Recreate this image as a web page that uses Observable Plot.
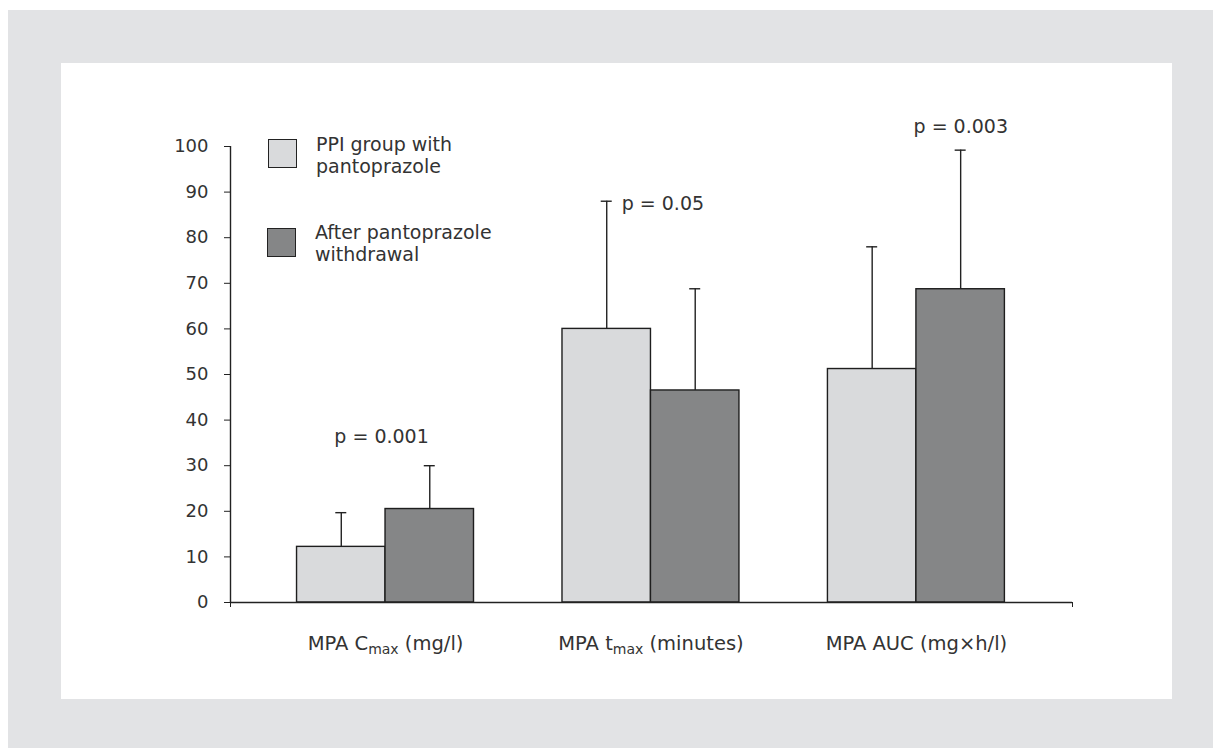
<!DOCTYPE html>
<html>
<head>
<meta charset="utf-8">
<script src="https://cdn.jsdelivr.net/npm/d3@7"></script>
<script src="https://cdn.jsdelivr.net/npm/@observablehq/plot@0.6"></script>
<style>
html, body { margin: 0; padding: 0; background: #fff; width: 1213px; height: 748px; overflow: hidden; }
body { position: relative; font-family: "DejaVu Sans", sans-serif; color: #333; }
#outer { position: absolute; left: 8px; top: 10px; width: 1205px; height: 738px; background: #e2e3e5; }
#inner { position: absolute; left: 61px; top: 63px; width: 1111px; height: 636px; background: #fff; }
#chart { position: absolute; left: 0; top: 0; }
.sw { position: absolute; box-sizing: border-box; width: 29px; height: 29px; border: 1.4px solid #222; }
.lt { position: absolute; font-size: 19px; line-height: 22px; color: #333; white-space: nowrap; }
</style>
</head>
<body>
<div id="outer"></div>
<div id="inner"></div>
<div id="chart"></div>
<div id="legend"></div>
<script>
// ---- data ----
const catMain = ["MPA C", "MPA t", "MPA AUC (mg\u00d7h/l)"];
const catSub  = ["max", "max", ""];
const catTail = [" (mg/l)", " (minutes)", ""];
const groups = ["PPI group with pantoprazole", "After pantoprazole withdrawal"];
const groupLines = [["PPI group with", "pantoprazole"], ["After pantoprazole", "withdrawal"]];
const groupColors = ["#d9dadc", "#858687"];
const ppiMean    = [12.2, 60.0, 51.2];
const ppiUpper   = [19.7, 88.0, 78.0];
const afterMean  = [20.5, 46.5, 68.7];
const afterUpper = [30.0, 68.8, 99.2];
const pLabels = ["p = 0.001", "p = 0.05", "p = 0.003"];
const pLabelY = [35, 86, 103];
const pLabelX = [-0.015, 0.045, 0.167];
const yTicks = [0, 10, 20, 30, 40, 50, 60, 70, 80, 90, 100];

// ---- build table ----
const fullLabels = catMain.map((m, i) => m + catSub[i] + catTail[i]);
const rows = [];
fullLabels.forEach((c, i) => {
  rows.push({cat: c, group: groups[0], x1: i - 1/3, x2: i, mean: ppiMean[i], upper: ppiUpper[i]});
  rows.push({cat: c, group: groups[1], x1: i, x2: i + 1/3, mean: afterMean[i], upper: afterUpper[i]});
});
const center = d => (d.x1 + d.x2) / 2;
const xDomain = [-0.584, 2.588];
const ink = "#222";

const chart = Plot.plot({
  width: 1213,
  height: 748,
  marginLeft: 230,
  marginRight: 141,
  marginTop: 146,
  marginBottom: 146,
  style: {fontFamily: "DejaVu Sans, sans-serif", fontSize: "18px", color: "#333", background: "none", overflow: "visible"},
  x: {domain: xDomain, label: null},
  y: {domain: [0, 100], label: null},
  color: {domain: groups, range: groupColors},
  marks: [
    Plot.axisY({ticks: yTicks, tickSize: 6, tickPadding: 16, label: null, stroke: ink, fontSize: 18}),
    Plot.axisX({ticks: xDomain, tickSize: 5, tickFormat: () => "", label: null, stroke: ink}),
    Plot.axisX({ticks: [0, 1, 2], tickSize: 0, tickPadding: 34, tickFormat: i => fullLabels[i], label: null, fontSize: 19.5}),
    Plot.rectY(rows, {x1: "x1", x2: "x2", y: "mean", fill: "group", stroke: "#1e1e1e", strokeWidth: 1.4}),
    Plot.ruleX(rows, {x: center, y1: "mean", y2: "upper", stroke: ink, strokeWidth: 1.4}),
    Plot.ruleY(rows, {x1: center, x2: center, y: "upper", insetLeft: -5.5, insetRight: -5.5, stroke: ink, strokeWidth: 1.4}),
    Plot.ruleY([0], {stroke: ink, strokeWidth: 1.4}),
    Plot.ruleX([xDomain[0]], {y1: 0, y2: 100, stroke: ink, strokeWidth: 1.4}),
    Plot.text(pLabels, {x: (d, i) => i + pLabelX[i], y: (d, i) => pLabelY[i], text: d => d, textAnchor: "middle", fontSize: 19, fill: "#333", lineAnchor: "bottom"})
  ]
});
document.getElementById("chart").appendChild(chart);

// subscripts in category labels
d3.select(chart).selectAll("text").each(function() {
  const t = d3.select(this);
  const idx = fullLabels.indexOf(this.textContent);
  if (idx < 0 || !catSub[idx]) return;
  t.text(null);
  t.append("tspan").text(catMain[idx]);
  t.append("tspan").attr("font-size", "14px").attr("dy", "4").text(catSub[idx]);
  t.append("tspan").attr("dy", "-4").text(catTail[idx]);
});

// legend
const leg = document.getElementById("legend");
const swPos = [[268, 139], [267, 228]];
const txPos = [[316, 133], [315, 221]];
groups.forEach((g, i) => {
  const s = document.createElement("div");
  s.className = "sw";
  s.style.left = swPos[i][0] + "px"; s.style.top = swPos[i][1] + "px";
  s.style.background = groupColors[i];
  leg.appendChild(s);
  const t = document.createElement("div");
  t.className = "lt";
  t.style.left = txPos[i][0] + "px"; t.style.top = txPos[i][1] + "px";
  t.innerHTML = groupLines[i].join("<br>");
  leg.appendChild(t);
});
</script>
</body>
</html>
